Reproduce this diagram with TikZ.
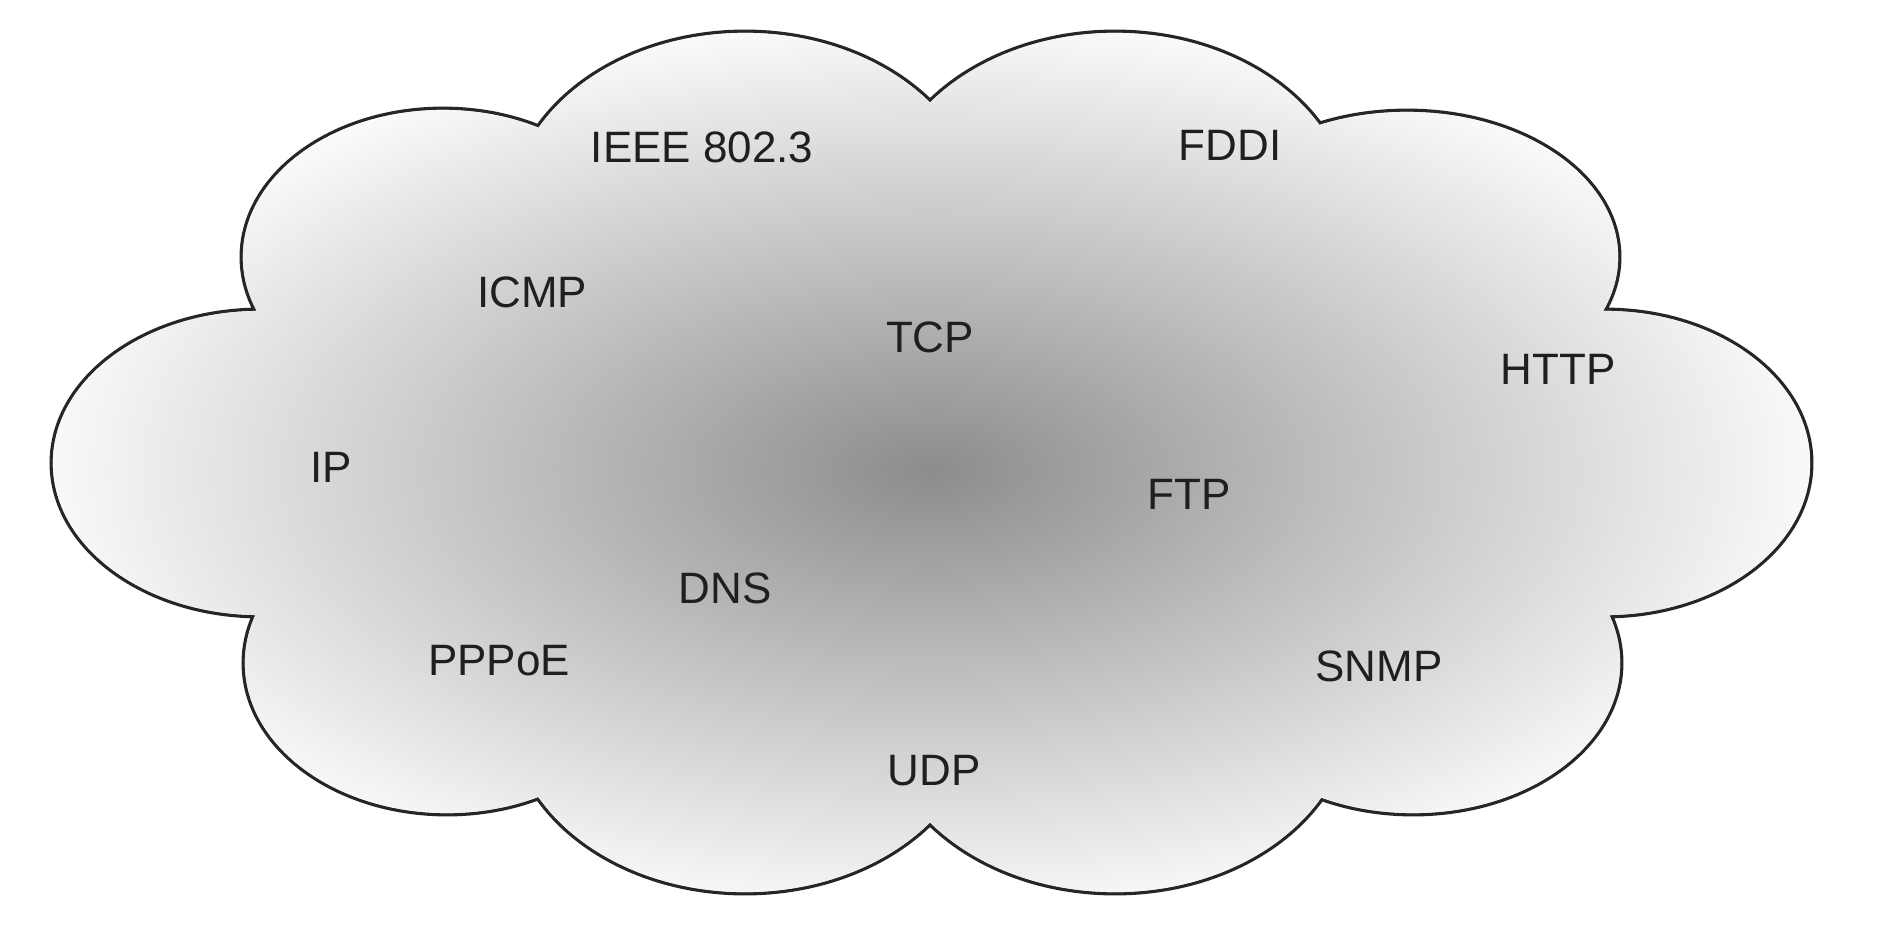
\documentclass[tikz,border=0pt]{standalone}
\usepackage{fontspec}
\setmainfont{Liberation Sans}
\begin{document}
\begin{tikzpicture}[x=0.01cm,y=-0.01cm,
  lbl/.style={font=\fontsize{12.5}{15}\selectfont, text=black!88, inner sep=0pt}]
\def\cloudpath{
  (260,463) ellipse [x radius=2.07cm, y radius=1.52cm]
  (443,257) ellipse [x radius=2.00cm, y radius=1.47cm]
  (745,215) ellipse [x radius=2.35cm, y radius=1.82cm]
  (1115,215) ellipse [x radius=2.35cm, y radius=1.82cm]
  (1407,257) ellipse [x radius=2.11cm, y radius=1.45cm]
  (1605,463) ellipse [x radius=2.05cm, y radius=1.52cm]
  (1413,663) ellipse [x radius=2.07cm, y radius=1.50cm]
  (1115,710) ellipse [x radius=2.35cm, y radius=1.82cm]
  (745,710) ellipse [x radius=2.35cm, y radius=1.82cm]
  (447,663) ellipse [x radius=2.02cm, y radius=1.50cm]
  (933,463) ellipse [x radius=7.00cm, y radius=3.00cm]
}
\fill[white] (0,0) rectangle (1894,924);
\useasboundingbox (0,0) rectangle (1894,924);
\draw[line width=1.9pt, black!85] \cloudpath;
\fill[white] \cloudpath;
\begin{scope}
  \clip \cloudpath;
  \shade[inner color=black!45, outer color=white] (930,470) ellipse [x radius=9.3cm, y radius=4.7cm];
\end{scope}
\node[lbl] (ieee) at (702,147) {IEEE 802.3};
\node[lbl] (fddi) at (1230,145) {FDDI};
\node[lbl] (icmp) at (532,292) {ICMP};
\node[lbl] (tcp)  at (930,337) {TCP};
\node[lbl] (http) at (1558,369) {HTTP};
\node[lbl] (ip)   at (331,467) {IP};
\node[lbl] (ftp)  at (1189,494) {FTP};
\node[lbl] (dns)  at (725,588) {DNS};
\node[lbl] (pppoe) at (499,661) {PPPoE};
\node[lbl] (snmp) at (1379,666) {SNMP};
\node[lbl] (udp)  at (934,771) {UDP};
\end{tikzpicture}
\end{document}
